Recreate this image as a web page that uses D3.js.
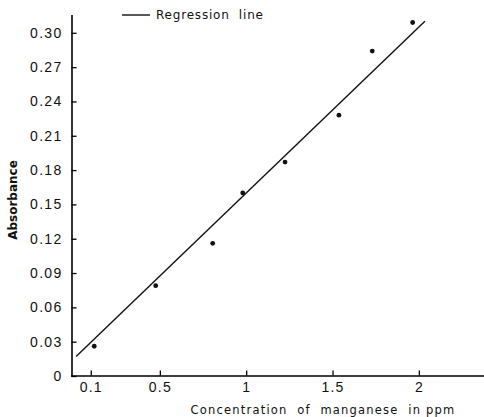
<!DOCTYPE html>
<html>
<head>
<meta charset="utf-8">
<script src="https://cdn.jsdelivr.net/npm/d3@7"></script>
<style>
  body { margin: 0; background: #fff; }
  svg { display: block; font-family: "DejaVu Sans", sans-serif; }
  text { white-space: pre; }
</style>
</head>
<body>
<svg id="chart"></svg>
<script>
// measured points (concentration ppm vs absorbance)
const concentration = [0.12, 0.476, 0.806, 0.98, 1.225, 1.537, 1.73, 1.964];
const absorbance = [0.026, 0.079, 0.116, 0.160, 0.187, 0.228, 0.284, 0.309];

// regression line ends
const lineX = [0.015, 2.035];
const lineY = [0.017, 0.310];

const xTicks = [0.1, 0.5, 1, 1.5, 2];
const xTickLabels = ['0.1', '0.5', '1', '1.5', '2'];
const yTicks = [0, 0.03, 0.06, 0.09, 0.12, 0.15, 0.18, 0.21, 0.24, 0.27, 0.30];
const yTickLabels = ['0', '0.03', '0.06', '0.09', '0.12', '0.15', '0.18', '0.21', '0.24', '0.27', '0.30'];

const width = 484;
const height = 417;

const svg = d3.select('#chart')
              .attr('width', width)
              .attr('height', height)

const x = d3.scaleLinear()
            .domain([0, 2.38])
            .range([73.5, 484.5])

const y = d3.scaleLinear()
            .domain([0, 0.316])
            .range([376, 14.5])

const xAxis = d3.axisBottom(x)
                .tickValues(xTicks)
                .tickFormat((d, i) => xTickLabels[i])
                .tickSize(-5)
                .tickSizeOuter(0)
                .tickPadding(7)

const yAxis = d3.axisLeft(y)
                .tickValues(yTicks)
                .tickFormat((d, i) => yTickLabels[i])
                .tickSize(-5)
                .tickSizeOuter(0)
                .tickPadding(9)

const gx = svg.append('g')
   .attr('transform', `translate(0, 375.5)`)
   .call(xAxis)
gx.select('.domain').attr('stroke-width', 1.6).attr('d', `M71,0.5H${width}`)
gx.selectAll('.tick line').attr('stroke-width', 1.3)
gx.selectAll('.tick text')
  .attr('font-size', 14)
  .attr('letter-spacing', 1.2)
  .attr('fill', '#111')

const gy = svg.append('g')
   .attr('transform', `translate(71.5, 0)`)
   .call(yAxis)
gy.select('.domain').attr('stroke-width', 1.6)
gy.selectAll('.tick line').attr('stroke-width', 1.3)
gy.selectAll('.tick text')
  .attr('font-size', 14)
  .attr('letter-spacing', 1.3)
  .attr('fill', '#111')

// regression line
svg.append('line')
   .attr('x1', x(lineX[0]))
   .attr('y1', y(lineY[0]))
   .attr('x2', x(lineX[1]))
   .attr('y2', y(lineY[1]))
   .attr('stroke', '#111')
   .attr('stroke-width', 1.4)

svg.selectAll('circle')
   .data(concentration)
   .enter()
   .append('circle')
   .attr('cx', d => x(d))
   .attr('cy', (d, i) => y(absorbance[i]))
   .attr('r', 2.4)
   .attr('fill', '#111')

// legend
svg.append('line')
   .attr('x1', 122)
   .attr('x2', 150)
   .attr('y1', 15)
   .attr('y2', 15)
   .attr('stroke', '#111')
   .attr('stroke-width', 1.4)

svg.append('text')
   .attr('x', 156)
   .attr('y', 19)
   .attr('font-size', 12)
   .attr('letter-spacing', 0.8)
   .attr('fill', '#111')
   .text('Regression  line')

// axis titles
svg.append('text')
   .attr('x', 323)
   .attr('y', 414)
   .attr('text-anchor', 'middle')
   .attr('font-size', 11.5)
   .attr('letter-spacing', 1.2)
   .attr('fill', '#111')
   .text('Concentration  of  manganese  in ppm')

svg.append('text')
   .attr('transform', 'translate(17, 200) rotate(-90)')
   .attr('text-anchor', 'middle')
   .attr('font-size', 12)
   .attr('font-weight', 'bold')
   .attr('fill', '#111')
   .text('Absorbance')
</script>
</body>
</html>
